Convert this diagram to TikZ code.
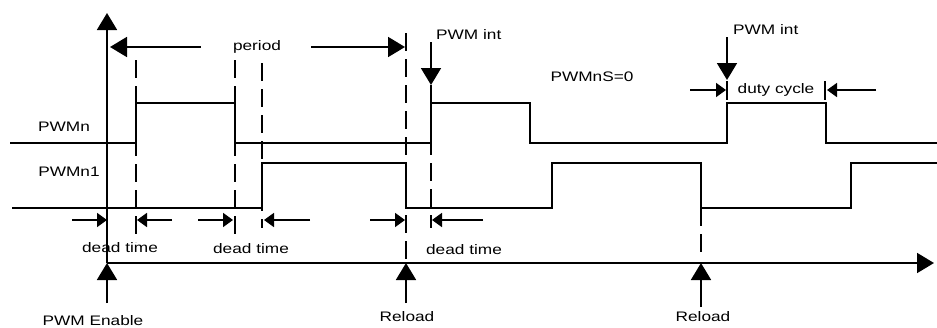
\documentclass[tikz,border=0pt]{standalone}
\usepackage{fontspec}
\setmainfont{Liberation Sans}[FakeStretch=1.25]
\usetikzlibrary{arrows.meta, positioning}
\tikzset{
  sig/.style      = {line width=1.8pt, line join=miter},
  guide/.style    = {line width=1.8pt, dash pattern=on 18pt off 8pt},
  bigarr/.style   = {-{Triangle[length=17pt, width=20pt]}, line width=1.8pt},
  smallarr/.style = {-{Triangle[length=10pt, width=14pt]}, line width=1.8pt},
  lbl/.style      = {font=\fontsize{13.8}{15}\selectfont, inner sep=0pt},
}

\begin{document}
\begin{tikzpicture}[x=1pt, y=-1pt]
  \useasboundingbox (0,0) rectangle (937,327);
  % axes
  \coordinate (org)  at (107,263);
  \coordinate (ytop) at (107,13);
  \coordinate (xend) at (934,263);
  \coordinate (en)   at (107,303);
  \coordinate (rlA)  at (406,263);
  \coordinate (rlB)  at (701,263);
  \draw[bigarr] (org) -- (ytop);
  \draw[bigarr] (org) -- (xend);
  \draw[bigarr] (en) -- (org);
  \draw[bigarr] (406,303) -- (rlA);
  \draw[bigarr] (701,307) -- (rlB);

  % waveforms
  \draw[sig] (10,143) -- (136,143) -- (136,103) -- (235,103) -- (235,143) -- (431,143) -- (431,103)
             -- (530,103) -- (530,143) -- (727,143) -- (727,103) -- (826,103) -- (826,143) -- (937,143);
  \draw[sig] (12,208) -- (262,208) -- (262,163) -- (406,163) -- (406,208) -- (552,208) -- (552,163)
             -- (701,163) -- (701,208) -- (851,208) -- (851,163) -- (937,163);

  % guides
  \foreach \x/\a/\b in {136/60/242, 235/60/236, 262/63/228, 406/33/263, 431/85/228, 701/208/255}
    {\draw[guide] (\x,\a) -- (\x,\b);}

  % dead time markers
  \foreach \a/\b in {72/107, 172/137, 198/233, 310/264, 370/405, 483/432}
    {\draw[smallarr] (\a,220) -- (\b,220);}

  % labels
  \node[lbl] (pwmn)  at (64,127) {PWMn};
  \node[lbl] (pwmnb) at (69,172) {PWMn1};
  \node[lbl] (per)   at (257,47) {period};
  \node[lbl, anchor=west] (intA) at (436,35) {PWM int};
  \node[lbl, anchor=west] (intB) at (733,30) {PWM int};
  \node[lbl] (nsz)   at (592,77) {PWMnS=0};
  \node[lbl] (duty)  at (776,90) {duty cycle};
  \node[lbl] (dtA)   at (120,248) {dead time};
  \node[lbl] (dtB)   at (251,249) {dead time};
  \node[lbl] (dtC)   at (464,250) {dead time};
  \node[lbl] (enb)   at (93,321) {PWM Enable};
  \node[lbl] (rldA)  at (407,317) {Reload};
  \node[lbl] (rldB)  at (703,317) {Reload};

  % period and interrupts
  \draw[bigarr] ([xshift=-32pt]per.west) -- ([xshift=3pt]ytop |- per);
  \draw[bigarr] ([xshift=30pt]per.east) -- ([xshift=-1pt]rlA |- per);
  \draw[bigarr] (431,42) -- (431,85);
  \draw[bigarr] (727,37) -- (727,80);

  % duty cycle
  \draw[smallarr] (690,90) -- (726,90);
  \draw[smallarr] (876,90) -- (827,90);
  \draw[sig] (727,81) -- (727,100);
  \draw[sig] (825,81) -- (825,100);
\end{tikzpicture}
\end{document}
